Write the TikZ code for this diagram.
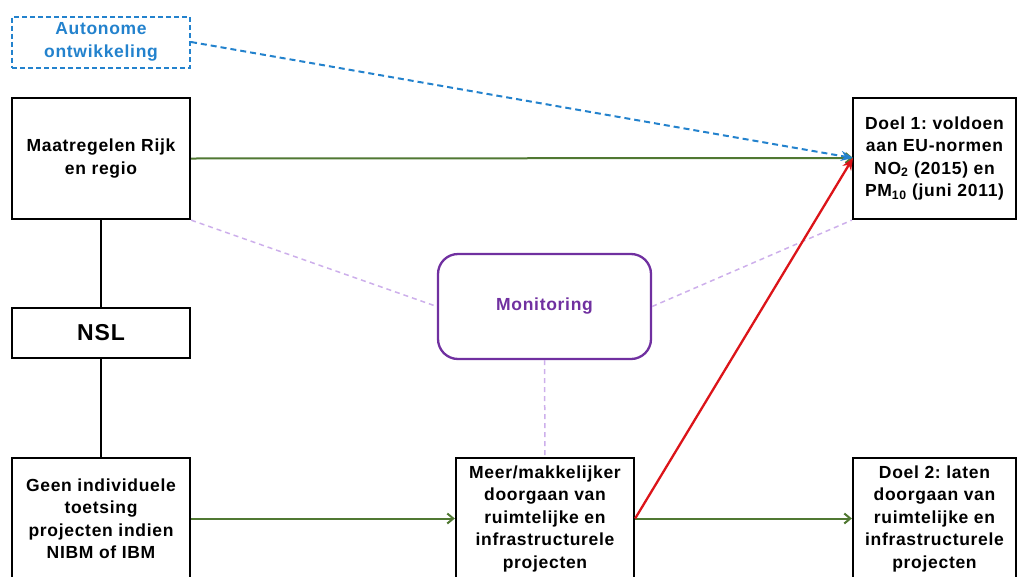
\documentclass[tikz,border=0pt]{standalone}
\usepackage{fontspec}
\setmainfont{Liberation Sans}
\newfontfamily\boxfont[LetterSpace=4]{Liberation Sans}
\usetikzlibrary{arrows.meta}
\definecolor{cgreen}{RGB}{80,120,50}
\definecolor{cblue}{RGB}{35,130,205}
\definecolor{cpurple}{RGB}{112,48,160}
\definecolor{clpurple}{RGB}{205,175,235}
\definecolor{cred}{RGB}{220,20,25}
\begin{document}
\frenchspacing
\begin{tikzpicture}[x=1pt,y=-1pt,
  box/.style={draw=black,line width=2.3pt,minimum width=178pt,minimum height=121pt,inner sep=0pt,align=center,font=\boxfont\fontsize{17.5}{22.5}\selectfont\bfseries},
  dbox/.style={box,minimum width=163pt},
  greenarrow/.style={draw=cgreen,line width=2pt,-{Straight Barb[length=6pt,width=10pt]}},
  lpdash/.style={draw=clpurple,line width=1.5pt,dash pattern=on 5pt off 4pt}]
\useasboundingbox (0,0) rectangle (1020,576);
\node[box,draw=cblue,line width=2pt,dash pattern=on 5pt off 3pt,minimum height=51pt,text=cblue] (auto) at (101,42) {Autonome\\ontwikkeling};
\node[box] (maat) at (101,158.5) {Maatregelen Rijk\\en regio};
\node[box,minimum height=50pt,font=\boxfont\fontsize{23}{27}\selectfont\bfseries] (nsl) at (101,333) {NSL};
\node[box] (geen) at (101,518.5) {Geen individuele\\toetsing\\projecten indien\\NIBM of IBM};
\node[box,draw=cpurple,rounded corners=20pt,minimum width=213pt,minimum height=105pt,text=cpurple] (mon) at (544.5,306.5) {Monitoring};
\node[box] (meer) at (545,518.5) {Meer/makkelijker\\doorgaan van\\ruimtelijke en\\infrastructurele\\projecten};
\node[dbox] (doel1) at (934.5,158.5) {Doel 1: voldoen\\aan EU-normen\\NO\textsubscript{2} (2015) en\\PM\textsubscript{10} (juni 2011)};
\node[dbox] (doel2) at (934.5,518.5) {Doel 2: laten\\doorgaan van\\ruimtelijke en\\infrastructurele\\projecten};
\coordinate (d1in) at (853,158);
\draw[lpdash] (maat.south east) -- (mon.west);
\draw[lpdash] (mon.east) -- (doel1.south west);
\draw[lpdash] (mon.south) -- (meer.north);
\draw[line width=2.3pt] (maat.south) -- (nsl.north);
\draw[line width=2.3pt] (nsl.south) -- (geen.north);
\draw[greenarrow] (maat.east) -- (d1in);
\draw[greenarrow] (geen.east) -- (meer.west);
\draw[greenarrow] (meer.east) -- (doel2.west);
\draw[draw=cblue,line width=2pt,dash pattern=on 6pt off 4pt,-{Stealth[length=12pt,width=10pt]}] (auto.east) -- (d1in);
\draw[draw=cred,line width=2.3pt,-{Stealth[length=12pt,width=10pt]}] (meer.east) -- (d1in);
\end{tikzpicture}
\end{document}
